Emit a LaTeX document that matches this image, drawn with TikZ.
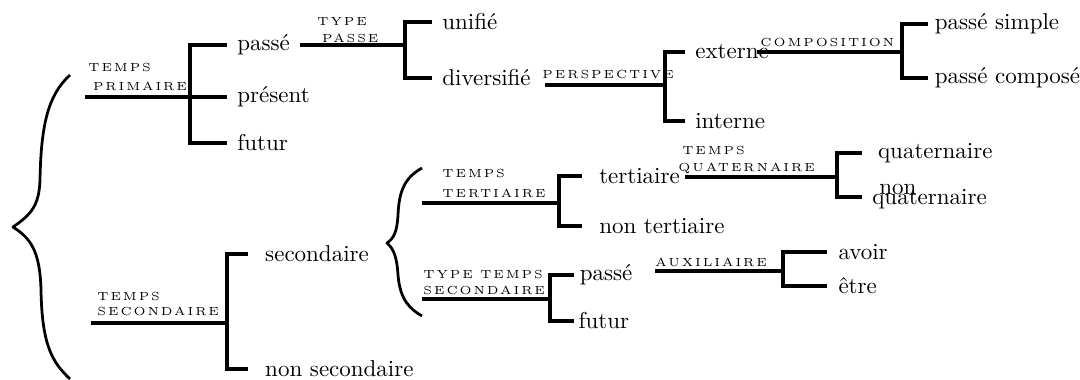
\documentclass[tikz,border=0pt]{standalone}
\usepackage{fontspec}
\usepackage{tikz}
\usetikzlibrary{calc,positioning}
\newfontfamily\capsfont[LetterSpace=16]{lmroman5-regular.otf}
\newcommand\lblfont{\capsfont\fontsize{5.1}{7.4}\selectfont}

\begin{document}
\begin{tikzpicture}[x=0.435pt, y=-0.435pt,
		lf/.style={anchor=west, inner sep=0pt, outer sep=4.5pt},
		br/.style={line width=1.4pt},
		brace/.style={line width=1.2pt, line join=round},
		lbl/.style={anchor=south west, inner sep=0pt, align=left, font=\lblfont}]
			%%%%% START %%%%%
			
			\useasboundingbox (0,0) rectangle (1080,379);
			
			% big brace
			\draw[brace] (70,75) .. controls (48,95) and (41,125) .. (40,180) .. controls (39,205) and (32,214) .. (13,227) .. controls (30,238) and (40,250) .. (41,290) .. controls (42,345) and (52,362) .. (70,379);
			
			% temps primaire
			\coordinate (p0) at (85,97);
			\coordinate (p1) at (190,97);
			\node[lf] (passeA) at (227,45) {passé};
			\node[lf] (present) at (227,97) {présent};
			\node[lf] (futurA) at (227,143) {futur};
			\node[lbl] (tprim) at (88,91) {TEMPS\\[0.8pt]\hspace*{2pt}PRIMAIRE};
			\draw[br] (p0) -- (p1) -- (present.west);
			\draw[br] (passeA.west) -- (passeA.west -| p1) -- (futurA.west -| p1) -- (futurA.west);
			
			% type passe
			\coordinate (q1) at (405,45);
			\node[lf] (unifie) at (432,22) {unifié};
			\node[lf] (divers) at (432,78) {diversifié};
			\node[lbl] (tpasse) at (317,43) {TYPE\\\hspace*{2pt}PASSE};
			\draw[br] (passeA.east) -- (q1);
			\draw[br] (unifie.west) -- (unifie.west -| q1) -- (divers.west -| q1) -- (divers.west);
			
			% perspective
			\coordinate (r0) at (545,85);
			\coordinate (r1) at (665,85);
			\node[lf] (externe) at (685,52) {externe};
			\node[lf] (interne) at (685,121) {interne};
			\node[lbl] (persp) at (542,79) {PERSPECTIVE};
			\draw[br] (r0) -- (r1);
			\draw[br] (externe.west) -- (externe.west -| r1) -- (interne.west -| r1) -- (interne.west);
			
			% composition
			\coordinate (c0) at (757,52);
			\coordinate (c1) at (902,52);
			\node[lf, outer sep=3pt] (psimple) at (928,24) {passé simple};
			\node[lf, outer sep=3pt] (pcompose) at (928,78) {passé composé};
			\node[lbl] (compo) at (760,47) {COMPOSITION};
			\draw[br] (c0) -- (c1);
			\draw[br] (psimple.west) -- (psimple.west -| c1) -- (pcompose.west -| c1) -- (pcompose.west);
			
			% temps secondaire
			\coordinate (s0) at (91,323);
			\coordinate (s1) at (227,323);
			\node[lf, outer sep=7.5pt] (second) at (248,254) {secondaire};
			\node[lf, outer sep=7.5pt] (nonsec) at (248,369) {non secondaire};
			\node[lbl] (tsec) at (97,316) {TEMPS\\[-0.8pt]SECONDAIRE};
			\draw[br] (s0) -- (s1);
			\draw[br] (second.west) -- (second.west -| s1) -- (nonsec.west -| s1) -- (nonsec.west);
			
			% small brace
			\draw[brace] (422,168) .. controls (404,178) and (399,192) .. (398,215) .. controls (397,232) and (394,238) .. (387,243) .. controls (394,249) and (397,258) .. (398,275) .. controls (400,300) and (410,309) .. (422,316);
			
			% temps tertiaire
			\coordinate (t0) at (422,203);
			\coordinate (t1) at (559,203);
			\node[lf, outer sep=7.5pt] (tert) at (582,176) {tertiaire};
			\node[lf, outer sep=7.5pt] (nontert) at (582,226) {non tertiaire};
			\node[lbl] (ttert) at (442,198) {TEMPS\\[1.2pt]TERTIAIRE};
			\draw[br] (t0) -- (t1);
			\draw[br] (tert.west) -- (tert.west -| t1) -- (nontert.west -| t1) -- (nontert.west);
			
			% temps quaternaire
			\coordinate (u0) at (685,177);
			\coordinate (u1) at (837,177);
			\node[lf, outer sep=7pt] (quat) at (862,153) {quaternaire};
			\node[lf, align=left] (nonquat) at (862,197) {\hspace*{3pt}non\\[-7.6pt]quaternaire};
			\node[lbl] (tquat) at (678,174) {\hspace*{1.7pt}TEMPS\\QUATERNAIRE};
			\draw[br] (u0) -- (u1);
			\draw[br] (quat.west) -- (quat.west -| u1) -- (nonquat.west -| u1) -- (nonquat.west);
			
			% type temps secondaire
			\coordinate (v0) at (422,299);
			\coordinate (v1) at (550,299);
			\node[lf, outer sep=2.5pt] (passeB) at (574,275) {passé};
			\node[lf, outer sep=2pt] (futurB) at (574,321) {futur};
			\node[lbl] (ttsec) at (423,295) {TYPE TEMPS\\[-0.4pt]SECONDAIRE};
			\draw[br] (v0) -- (v1);
			\draw[br] (passeB.west) -- (passeB.west -| v1) -- (futurB.west -| v1) -- (futurB.west);
			
			% auxiliaire
			\coordinate (w0) at (655,271);
			\coordinate (w1) at (783,271);
			\node[lf, outer sep=5pt] (avoir) at (827,252) {avoir};
			\node[lf, outer sep=5pt] (etre) at (827,286) {être};
			\node[lbl] (aux) at (655,267) {AUXILIAIRE};
			\draw[br] (w0) -- (w1);
			\draw[br] (avoir.west) -- (avoir.west -| w1) -- (etre.west -| w1) -- (etre.west);
			
			%%%%% END %%%%%
\end{tikzpicture}
\end{document}
